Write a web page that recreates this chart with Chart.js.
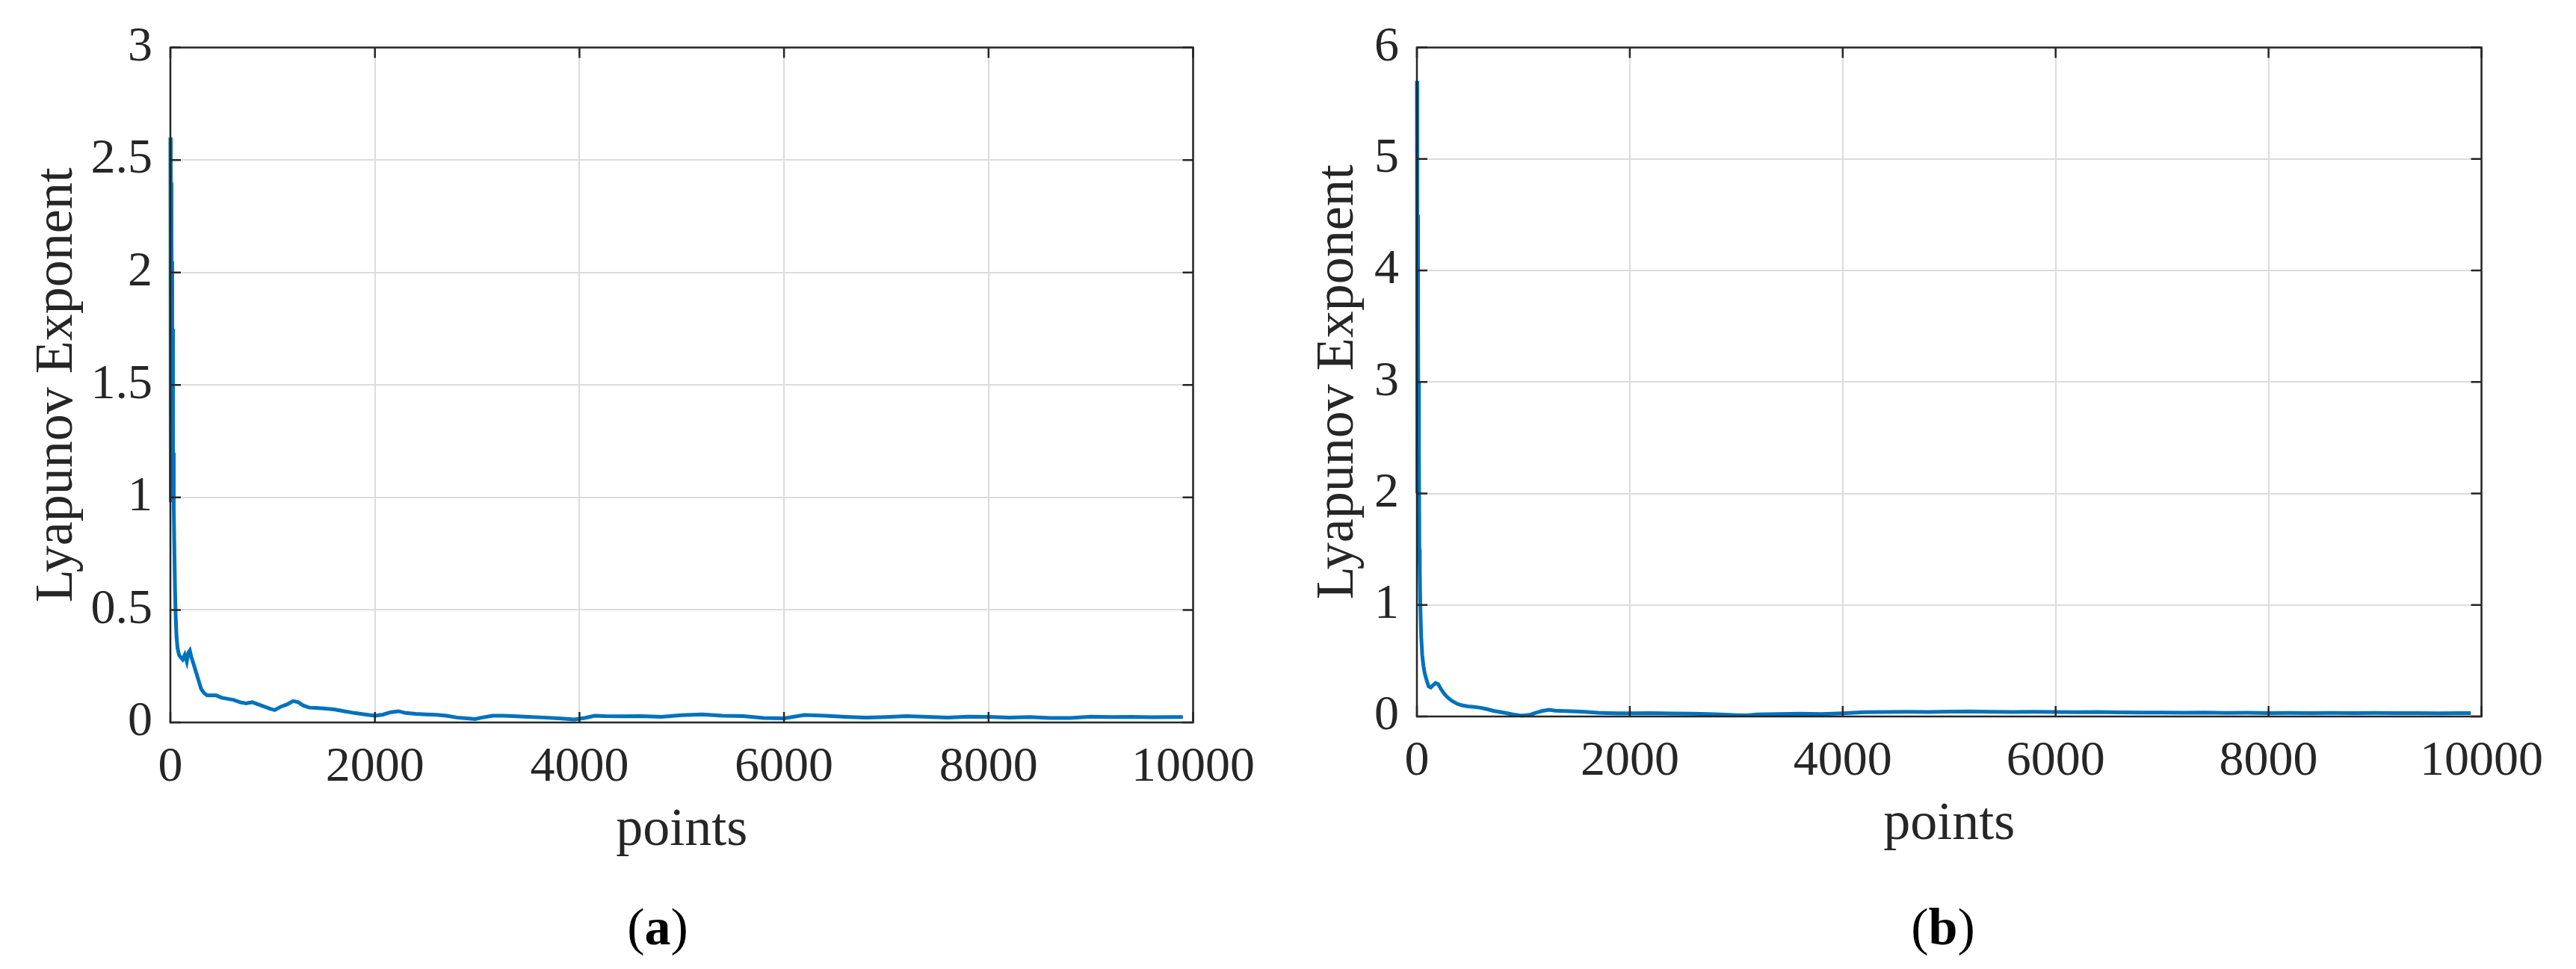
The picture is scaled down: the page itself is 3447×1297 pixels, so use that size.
<!DOCTYPE html>
<html>
<head>
<meta charset="utf-8">
<script src="https://cdn.jsdelivr.net/npm/chart.js@4.4.1/dist/chart.umd.min.js"></script>
<style>
  html, body { margin: 0; padding: 0; background: #fff; }
  body { width: 3447px; height: 1297px; position: relative; overflow: hidden; }
  .panel { position: absolute; top: 0; }
  .caption {
    position: absolute; top: 1197px; width: 200px; margin-left: -100px;
    text-align: center; font-family: "Liberation Serif", serif; font-size: 70px;
    line-height: 88px; color: #000;
  }
</style>
</head>
<body>
<div class="panel" style="left:0px"><canvas id="chartA" width="1700" height="1160"></canvas></div>
<div class="panel" style="left:1724px"><canvas id="chartB" width="1700" height="1160"></canvas></div>
<div class="caption" style="left:880px">(<b>a</b>)</div>
<div class="caption" style="left:2600px">(<b>b</b>)</div>

<script>
// Valores (a)
const pointsA = [0, 1, 2, 3, 4, 5, 6, 7, 8, 9, 10, 12, 13, 15, 16, 18, 19, 21, 22, 24,
  26, 28, 30, 33, 38, 45, 52, 60, 70, 85, 100, 120,
  140, 160, 175, 190, 205, 220, 240, 260, 280, 300, 330, 360, 400, 450, 500, 560, 620, 680, 740, 800,
  860, 920, 980, 1020, 1080, 1140, 1200, 1250, 1300, 1360, 1420, 1500, 1600, 1700, 1800, 1900, 2000, 2080, 2150, 2230,
  2300, 2400, 2500, 2600, 2700, 2800, 2900, 2980, 3050, 3150, 3250, 3350, 3500, 3650, 3800, 3950, 4050, 4150, 4250, 4400,
  4600, 4800, 5000, 5200, 5400, 5600, 5800, 6000, 6200, 6400, 6600, 6800, 7000, 7200, 7400, 7600, 7800, 8000, 8200, 8400,
  8600, 8800, 9000, 9200, 9400, 9600, 9800, 9900];
const lyapA = [2.6, 1.0, 2.55, 0.98, 2.5, 1.0, 2.45, 1.05, 2.4, 1.0, 2.3, 1.05, 2.2, 1.1, 2.05, 1.0, 1.9, 1.05, 1.75, 1.0,
  1.5, 0.98, 1.2, 0.95, 0.8, 0.6, 0.47, 0.38, 0.33, 0.3, 0.29, 0.28,
  0.3, 0.27, 0.31, 0.32, 0.29, 0.27, 0.24, 0.21, 0.18, 0.15, 0.13, 0.12, 0.12, 0.12, 0.11, 0.105, 0.1, 0.09, 0.085, 0.09,
  0.08, 0.07, 0.06, 0.055, 0.07, 0.08, 0.095, 0.09, 0.075, 0.066, 0.065, 0.062, 0.058, 0.05, 0.042, 0.036, 0.03, 0.035, 0.045, 0.05,
  0.042, 0.038, 0.036, 0.034, 0.03, 0.022, 0.018, 0.015, 0.022, 0.03, 0.03, 0.028, 0.025, 0.022, 0.018, 0.013, 0.02, 0.03, 0.028, 0.027,
  0.028, 0.025, 0.032, 0.036, 0.03, 0.028, 0.02, 0.018, 0.033, 0.03, 0.025, 0.022, 0.024, 0.028, 0.025, 0.022, 0.026, 0.025, 0.022, 0.024,
  0.02, 0.02, 0.026, 0.024, 0.025, 0.023, 0.024, 0.024];

// Valores (b)
const pointsB = [0, 1, 2, 3, 4, 5, 6, 7, 8, 9, 10, 12, 13, 15, 17, 19, 21, 23, 27, 32,
  40, 50, 62, 75, 90, 110, 130, 150,
  175, 200, 230, 260, 290, 330, 375, 420, 480, 540, 600, 660, 720, 780, 840, 900, 960, 1000, 1060, 1120,
  1180, 1240, 1300, 1400, 1500, 1600, 1700, 1800, 1900, 2000, 2200, 2400, 2600, 2800, 3000, 3100, 3200, 3400, 3600, 3800,
  4000, 4200, 4400, 4600, 4800, 5000, 5200, 5400, 5600, 5800, 6000, 6200, 6400, 6600, 6800, 7000, 7200, 7400, 7600, 7800,
  8000, 8200, 8400, 8600, 8800, 9000, 9200, 9400, 9600, 9800, 9900];
const lyapB = [5.7, 2.0, 5.6, 2.2, 5.3, 2.0, 4.9, 2.3, 4.5, 2.0, 4.0, 2.1, 3.5, 1.9, 3.0, 1.7, 2.4, 1.5, 1.3, 1.0,
  0.72, 0.55, 0.45, 0.38, 0.33, 0.27, 0.26, 0.28,
  0.3, 0.29, 0.24, 0.2, 0.17, 0.14, 0.115, 0.1, 0.09, 0.085, 0.078, 0.065, 0.05, 0.04, 0.03, 0.018, 0.01, 0.008, 0.015, 0.035,
  0.05, 0.06, 0.052, 0.048, 0.045, 0.04, 0.033, 0.03, 0.028, 0.028, 0.03, 0.027, 0.025, 0.02, 0.012, 0.01, 0.018, 0.022, 0.025, 0.022,
  0.028, 0.038, 0.04, 0.042, 0.04, 0.044, 0.046, 0.042, 0.04, 0.042, 0.04, 0.038, 0.04, 0.037, 0.035, 0.036, 0.033, 0.035, 0.032, 0.033,
  0.03, 0.032, 0.03, 0.031, 0.03, 0.031, 0.03, 0.03, 0.029, 0.03, 0.03];

// Rótulos dos eixos
const xTicks = [0, 2000, 4000, 6000, 8000, 10000];
const yTicksA = [0, 0.5, 1, 1.5, 2, 2.5, 3];
const yTicksB = [0, 1, 2, 3, 4, 5, 6];

const lineColor = '#0072BD';
const serif = '"Liberation Serif", "Times New Roman", serif';

// Caixa e marcas internas no estilo MATLAB
const matlabBox = {
  id: 'matlabBox',
  afterDatasetsDraw(chart) {
    const { ctx, chartArea: a, scales } = chart;
    const len = 14;
    ctx.save();
    ctx.strokeStyle = '#262626';
    ctx.lineWidth = 2.5;
    ctx.beginPath();
    scales.x.ticks.forEach(t => {
      const px = scales.x.getPixelForValue(t.value);
      ctx.moveTo(px, a.bottom); ctx.lineTo(px, a.bottom - len);
      ctx.moveTo(px, a.top); ctx.lineTo(px, a.top + len);
    });
    scales.y.ticks.forEach(t => {
      const py = scales.y.getPixelForValue(t.value);
      ctx.moveTo(a.left, py); ctx.lineTo(a.left + len, py);
      ctx.moveTo(a.right, py); ctx.lineTo(a.right - len, py);
    });
    ctx.stroke();
    ctx.strokeRect(a.left, a.top, a.right - a.left, a.bottom - a.top);
    ctx.restore();
  }
};

function createLyapChart(elementId, xs, ys, yTicks, yMax, opts) {
  const ctx = document.getElementById(elementId).getContext('2d');
  return new Chart(ctx, {
    type: 'line',
    data: {
      datasets: [{
        data: xs.map((x, i) => ({ x: x, y: ys[i] })),
        borderColor: lineColor,
        borderWidth: 5,
        pointRadius: 0,
        tension: 0,
        fill: false,
        clip: 6
      }]
    },
    options: {
      responsive: false,
      animation: false,
      devicePixelRatio: 1,
      layout: { padding: { top: opts.top, right: opts.right, left: 0, bottom: 0 } },
      plugins: { legend: { display: false }, tooltip: { enabled: false } },
      scales: {
        x: {
          type: 'linear',
          min: 0,
          max: 10000,
          afterBuildTicks: s => { s.ticks = xTicks.map(v => ({ value: v })); },
          afterFit: s => { s.height = opts.xHeight; },
          ticks: {
            color: '#262626',
            font: { family: serif, size: 66 },
            padding: 21,
            maxRotation: 0,
            callback: v => String(v)
          },
          grid: { color: '#dcdcdc', lineWidth: 2, drawTicks: false },
          border: { display: false },
          title: {
            display: true,
            text: 'points',
            color: '#262626',
            font: { family: serif, size: 72 },
            padding: { top: 0, bottom: opts.xTitlePad }
          }
        },
        y: {
          type: 'linear',
          min: 0,
          max: yMax,
          afterBuildTicks: s => { s.ticks = yTicks.map(v => ({ value: v })); },
          afterFit: s => { s.width = opts.yWidth; },
          ticks: {
            color: '#262626',
            font: { family: serif, size: 66 },
            padding: 24,
            callback: v => String(v)
          },
          grid: { color: '#dcdcdc', lineWidth: 2, drawTicks: false },
          border: { display: false },
          title: {
            display: true,
            text: 'Lyapunov Exponent',
            color: '#262626',
            font: { family: serif, size: 72 },
            padding: { top: opts.yTitlePad, bottom: 0 }
          }
        }
      }
    },
    plugins: [matlabBox]
  });
}

createLyapChart('chartA', pointsA, lyapA, yTicksA, 3,
  { top: 53, right: 66, xHeight: 193, yWidth: 228, yTitlePad: 34, xTitlePad: 5 });
createLyapChart('chartB', pointsB, lyapB, yTicksB, 6,
  { top: 62, right: 86, xHeight: 201, yWidth: 172, yTitlePad: 24, xTitlePad: 13 });
</script>
</body>
</html>
